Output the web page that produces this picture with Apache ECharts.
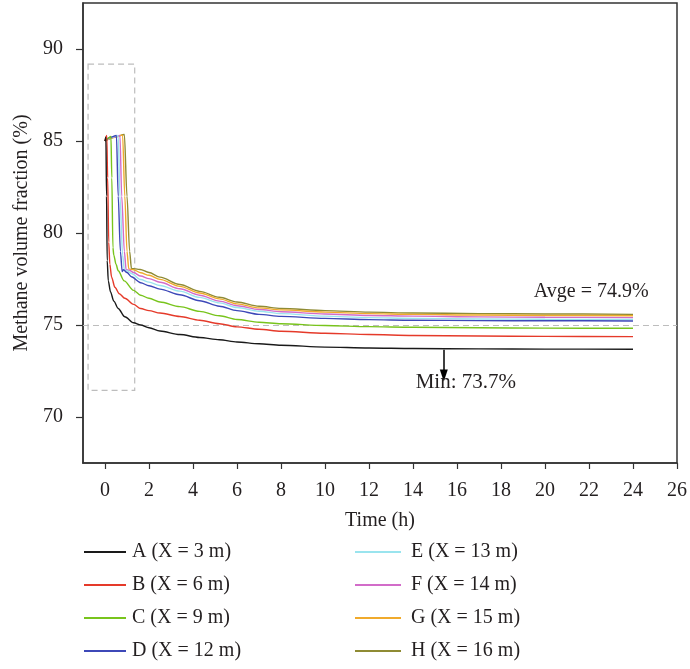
<!DOCTYPE html>
<html>
<head>
<meta charset="utf-8">
<script src="https://cdn.jsdelivr.net/npm/echarts@6/dist/echarts.min.js"></script>
<style>
  html, body { margin: 0; padding: 0; background: #fff; }
  #chart { width: 690px; height: 669px; }
</style>
</head>
<body>
<div id="chart"></div>
<script>
// Methane volume fraction (%) vs time (h) at eight positions along the roadway
const seriesNames = ['A (X = 3 m)', 'B (X = 6 m)', 'C (X = 9 m)', 'D (X = 12 m)',
                     'E (X = 13 m)', 'F (X = 14 m)', 'G (X = 15 m)', 'H (X = 16 m)'];
const seriesColors = ['#1a1a1a', '#e53a2a', '#78c41c', '#3d48b8',
                      '#9ae4ee', '#d26cc9', '#f0aa2c', '#8f8b34'];

const xTicks = [0, 2, 4, 6, 8, 10, 12, 14, 16, 18, 20, 22, 24, 26];
const yTicks = [70, 75, 80, 85, 90];

// [time (h), methane fraction (%)]
const dataA = [[0,85.0],[0.04,85.2],[0.07,82.0],[0.1,78.5],[0.15,77.4],[0.25,76.8],[0.4,76.3],
  [0.6,75.9],[0.9,75.45],[1.3,75.12],[1.62,75.0],[2,74.85],[2.5,74.67],[3.4,74.48],[4.3,74.32],
  [5.2,74.2],[6,74.08],[7,73.98],[8,73.9],[10,73.8],[12,73.75],[14,73.72],[17,73.7],[20,73.69],[24,73.68]];
const dataB = [[0,85.0],[0.08,85.3],[0.12,83.0],[0.17,79.5],[0.22,78.3],[0.3,77.6],[0.45,77.05],
  [0.65,76.7],[0.9,76.45],[1.3,76.12],[1.62,75.9],[2,75.78],[2.5,75.65],[3.4,75.46],[4.3,75.26],
  [5.2,75.07],[6,74.9],[7,74.77],[8,74.66],[10,74.55],[12,74.48],[14,74.43],[17,74.4],[20,74.38],[24,74.37]];
const dataC = [[0,85.0],[0.15,85.15],[0.27,85.25],[0.31,83.0],[0.36,79.2],[0.4,78.8],[0.5,78.3],
  [0.6,77.95],[0.87,77.4],[1.3,76.88],[1.62,76.62],[2,76.45],[2.5,76.25],[3.4,76.0],[4.3,75.74],
  [5.2,75.5],[6,75.3],[7,75.15],[8,75.07],[10,74.97],[12,74.91],[14,74.88],[17,74.85],[20,74.83],[24,74.82]];
const dataD = [[0,85.0],[0.25,85.2],[0.52,85.3],[0.6,82.0],[0.7,79.0],[0.78,77.9],[0.84,78.0],
  [1.0,77.85],[1.2,77.62],[1.62,77.3],[2,77.13],[2.5,76.95],[3.4,76.64],[4.3,76.32],[5.2,76.02],
  [6,75.78],[7,75.58],[8,75.47],[10,75.36],[12,75.29],[14,75.26],[17,75.24],[20,75.23],[24,75.22]];
const dataE = [[0,85.0],[0.3,85.2],[0.6,85.3],[0.68,82.0],[0.8,78.8],[0.88,78.0],[1.0,77.95],
  [1.2,77.8],[1.62,77.47],[2,77.33],[2.5,77.15],[3.4,76.84],[4.3,76.5],[5.2,76.2],[6,75.95],
  [7,75.75],[8,75.62],[10,75.48],[12,75.4],[14,75.36],[17,75.33],[20,75.31],[24,75.3]];
const dataF = [[0,85.0],[0.35,85.2],[0.68,85.3],[0.76,82.0],[0.88,79.0],[0.96,78.0],[1.1,77.98],
  [1.3,77.85],[1.62,77.66],[2,77.52],[2.5,77.32],[3.4,76.97],[4.3,76.62],[5.2,76.3],[6,76.05],
  [7,75.84],[8,75.72],[10,75.6],[12,75.52],[14,75.48],[17,75.44],[20,75.42],[24,75.4]];
const dataG = [[0,85.0],[0.4,85.2],[0.8,85.32],[0.9,82.0],[1.0,79.0],[1.08,78.05],[1.3,78.0],
  [1.62,77.84],[2,77.7],[2.5,77.48],[3.4,77.1],[4.3,76.74],[5.2,76.42],[6,76.15],[7,75.93],
  [8,75.82],[10,75.7],[12,75.62],[14,75.58],[17,75.54],[20,75.52],[24,75.5]];
const dataH = [[0,85.0],[0.45,85.2],[0.88,85.35],[1.0,82.0],[1.12,79.0],[1.2,78.08],[1.6,78.02],
  [2,77.85],[2.5,77.6],[3.4,77.2],[4.3,76.83],[5.2,76.51],[6,76.25],[7,76.02],[8,75.9],
  [10,75.78],[12,75.7],[14,75.65],[17,75.62],[20,75.6],[24,75.58]];
const allData = [dataA, dataB, dataC, dataD, dataE, dataF, dataG, dataH];

// Reference values for annotations
const avgValue = 74.9;
const minValue = 73.7;
const avgLine = 75;
const minArrowTime = 15.4;
const zoomBox = [[-0.77, 89.18], [1.35, 71.45]];

const FONT = 'Liberation Serif';
const TEXT = '#231f20';

const series = allData.map((d, i) => ({
  name: seriesNames[i],
  type: 'line',
  data: d,
  symbol: 'none',
  smooth: 0.3,
  smoothMonotone: 'x',
  z: 10 - i,
  lineStyle: { width: 1.4, color: seriesColors[i] },
  itemStyle: { color: seriesColors[i] }
}));

// Dashed average line, dashed box around the start-up period, annotations
series[0].markLine = {
  silent: true,
  symbol: ['none', 'none'],
  label: { show: false },
  lineStyle: { type: [6, 4], color: '#bdbdbd', width: 1.2 },
  data: [{ yAxis: avgLine }]
};
series[0].markArea = {
  silent: true,
  itemStyle: { color: 'rgba(0,0,0,0)', borderColor: '#bdbdbd', borderWidth: 1.2, borderType: [6, 4] },
  data: [[{ coord: zoomBox[0] }, { coord: zoomBox[1] }]]
};
series[1].markLine = {
  silent: true,
  symbol: ['none', 'triangle'],
  symbolSize: [8, 12],
  label: { show: false },
  lineStyle: { type: 'solid', color: '#000', width: 1.5 },
  data: [[{ coord: [minArrowTime, 73.66] }, { coord: [minArrowTime, 72.25] }]]
};
series[2].markPoint = {
  silent: true,
  symbol: 'circle',
  symbolSize: 0,
  label: { show: true, fontFamily: FONT, fontSize: 20, color: TEXT, position: 'inside' },
  data: [
    { coord: [22.1, 76.82], value: 'Avge = ' + avgValue + '%', label: { formatter: 'Avge = ' + avgValue + '%' } },
    { coord: [16.4, 71.85], value: 'Min: ' + minValue + '%', label: { formatter: 'Min: ' + minValue + '%', fontSize: 21 } }
  ]
};

const legendBase = {
  orient: 'vertical', top: 537,
  itemWidth: 42, itemHeight: 2, itemGap: 13,
  icon: 'rect',
  textStyle: { fontFamily: FONT, fontSize: 20, color: TEXT, padding: [0, 0, 0, 1] }
};

const option = {
  animation: false,
  backgroundColor: '#fff',
  grid: { left: 83, right: 9, top: 3, bottom: 206, show: true, borderColor: '#333', borderWidth: 1.5 },
  xAxis: {
    type: 'value',
    min: -1, max: 26,
    name: 'Time (h)',
    nameLocation: 'middle',
    nameGap: 48,
    nameTextStyle: { fontFamily: FONT, fontSize: 20, color: TEXT },
    axisLine: { onZero: false, lineStyle: { color: '#333', width: 1.5 } },
    axisTick: { show: true, inside: false, length: 6, customValues: xTicks, lineStyle: { color: '#333', width: 1.2 } },
    axisLabel: { customValues: xTicks, fontFamily: FONT, fontSize: 20, color: TEXT, margin: 18 },
    splitLine: { show: false }
  },
  yAxis: {
    type: 'value',
    min: 67.5, max: 92.5,
    name: 'Methane volume fraction (%)',
    nameLocation: 'middle',
    nameGap: 42,
    nameTextStyle: { fontFamily: FONT, fontSize: 20, color: TEXT },
    axisLine: { onZero: false, lineStyle: { color: '#333', width: 1.5 } },
    axisTick: { show: true, inside: false, length: 7, customValues: yTicks, lineStyle: { color: '#333', width: 1.2 } },
    axisLabel: { customValues: yTicks, fontFamily: FONT, fontSize: 20, color: TEXT, margin: 20 },
    splitLine: { show: false }
  },
  legend: [
    Object.assign({}, legendBase, { left: 79, data: seriesNames.slice(0, 4) }),
    Object.assign({}, legendBase, { left: 350, itemWidth: 46, data: seriesNames.slice(4),
      textStyle: Object.assign({}, legendBase.textStyle, { padding: [0, 0, 0, 5] }) })
  ],
  series: series
};

const chart = echarts.init(document.getElementById('chart'), null, { renderer: 'canvas' });
chart.setOption(option);
</script>
</body>
</html>
